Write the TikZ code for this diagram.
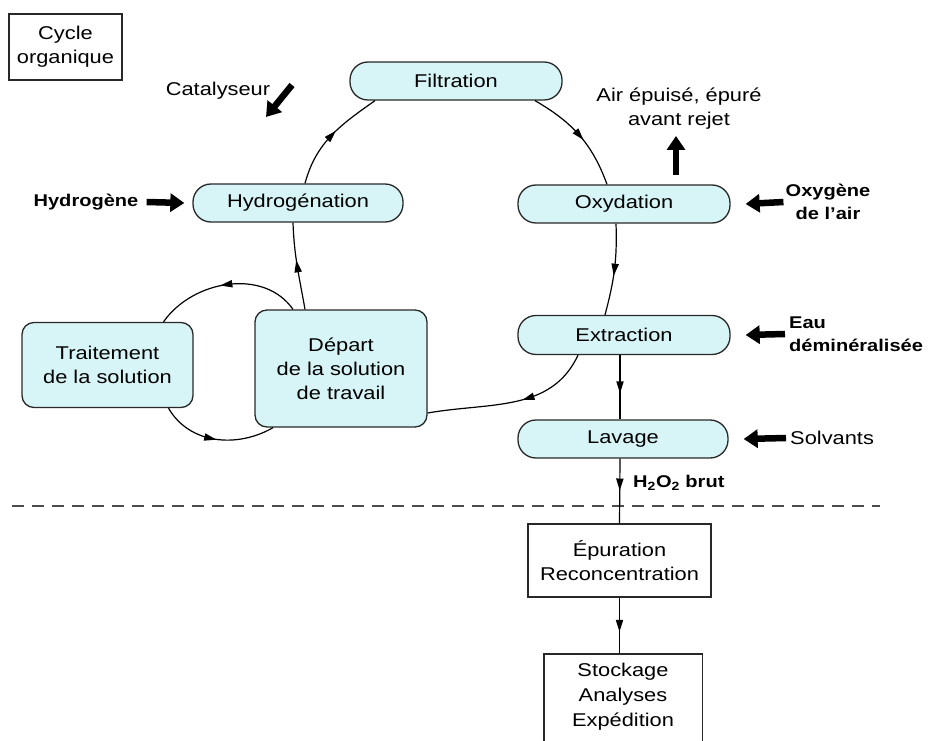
\documentclass[tikz,border=0pt]{standalone}
\usepackage{fontspec}
\setmainfont{Liberation Sans}[FakeStretch=1.18]
\usetikzlibrary{arrows.meta,decorations.markings}
\definecolor{pill}{RGB}{215,245,247}
\definecolor{edge}{RGB}{40,40,40}
\tikzset{
 base/.style={font=\fontsize{18.5}{24}\selectfont, align=center, inner sep=0pt},
 pillbox/.style={base, draw=edge, fill=pill, line width=1.3pt, rounded corners=18pt, minimum width=212pt, minimum height=38pt},
 softbox/.style={base, draw=edge, fill=pill, line width=1.3pt, rounded corners=12pt},
 plainbox/.style={base, draw=edge, line width=1.4pt},
 lbl/.style={base},
 blbl/.style={base, font=\fontsize{17}{23}\selectfont\bfseries},
 flow/.style={line width=1.2pt, postaction={decorate}, decoration={markings, mark=at position #1 with {\fill (-6pt,-3.8pt) -- (6pt,0pt) -- (-6pt,3.8pt) -- cycle;}}},
 flow/.default=0.5,
 bigarrow/.style={line width=6.5pt, -{Triangle[length=14pt,width=18pt]}},
 dashline/.style={draw=gray!60!black, line width=1.2pt, dash pattern=on 12pt off 8pt},
 frame/.style={draw=edge, line width=1.4pt},
}
\begin{document}
\begin{tikzpicture}[x=1pt,y=1pt]
\useasboundingbox (0,0) rectangle (928,740);
\clip (0,0) rectangle (928,740);
% dashed separator
\coordinate (dl) at (12,234);
\coordinate (dr) at (880,234);
\draw[dashline] (dl) -- (dr);
% nodes
\node[plainbox, minimum width=113pt, minimum height=66pt] (cyc) at (65.5,693) {Cycle\\organique};
\node[pillbox] (filt) at (456,659) {Filtration};
\node[pillbox, minimum width=210pt] (hyd) at (298,537) {Hydrogénation};
\node[pillbox] (oxy) at (624,536) {Oxydation};
\node[pillbox, minimum height=39pt] (ext) at (624,405) {Extraction};
\node[pillbox, minimum width=210pt] (lav) at (623,301) {Lavage};
\node[softbox, minimum width=171pt, minimum height=85pt] (trait) at (107.5,375) {Traitement\\de la solution};
\node[softbox, minimum width=172pt, minimum height=117pt] (dep) at (341,371.5) {Départ\\de la solution\\de travail};
\node[plainbox, minimum width=183pt, minimum height=73pt] (epur) at (619.5,179.5) {Épuration\\Reconcentration};
\node[base, minimum width=158pt, minimum height=86pt] (stock) at (623,43) {Stockage\\[1pt]Analyses\\[1pt]Expédition};
\draw[frame] ([yshift=-30pt]stock.south west) |- (stock.north east) -- ([yshift=-30pt]stock.south east);
% labels
\node[lbl] (catal) at (218,649) {Catalyseur};
\node[blbl] (hydrog) at (86,538) {Hydrogène};
\node[lbl] (air) at (679,631) {Air épuisé, épuré\\avant rejet};
\node[blbl] (oxyg) at (828,538) {Oxygène\\de l'air};
\node[blbl, anchor=west, align=left] (eau) at (789,406) {Eau\\déminéralisée};
\node[lbl, anchor=west] (solv) at (790,302) {Solvants};
\node[blbl, anchor=west] (h2o2) at (633,257) {H\textsubscript{2}O\textsubscript{2} brut};
% big arrows
\coordinate (catA) at (292,655);
\coordinate (catB) at (266,623);
\draw[bigarrow] (catA) -- (catB);
\draw[bigarrow] ([xshift=8pt]hydrog.east) -- ([xshift=-8pt]hyd.west);
\draw[bigarrow] ([xshift=-2pt]oxyg.west) -- ([xshift=15pt]oxy.east);
\coordinate (airA) at (676,565);
\coordinate (airB) at (676,604);
\draw[bigarrow] (airA) -- (airB);
\draw[bigarrow] ([xshift=-4pt]eau.west) -- ([xshift=15pt]ext.east);
\draw[bigarrow] ([xshift=-4pt]solv.west) -- ([xshift=15pt]lav.east);
% cycle
\draw[flow] ([xshift=7pt]hyd.north) to[out=75,in=215] ([xshift=-81pt]filt.south);
\draw[flow] ([xshift=79pt]filt.south) to[out=-30,in=110] ([xshift=-17pt]oxy.north);
\draw[flow] ([xshift=-8pt]oxy.south) to[out=-88,in=75] ([xshift=-19pt]ext.north);
\draw[flow=0.4] ([xshift=-46pt]ext.south) to[out=-115,in=10] ([yshift=-44.5pt]dep.east);
\draw[flow] ([xshift=-36pt]dep.north) to[out=100,in=-88] ([xshift=-5pt]hyd.south);
\draw[flow] ([xshift=-48pt]dep.north) to[out=125,in=55] ([xshift=56pt]trait.north);
\draw[flow=0.45] ([xshift=61pt]trait.south) to[out=-60,in=-150] ([xshift=-68pt]dep.south);
% straight flows
\draw[flow] ([xshift=-4pt]ext.south) -- ([xshift=-3pt]lav.north);
\draw[flow=0.4] ([xshift=-3pt]lav.south) -- (epur.north);
\draw[flow] (epur.south) -- (epur.south |- stock.north);
\end{tikzpicture}
\end{document}
